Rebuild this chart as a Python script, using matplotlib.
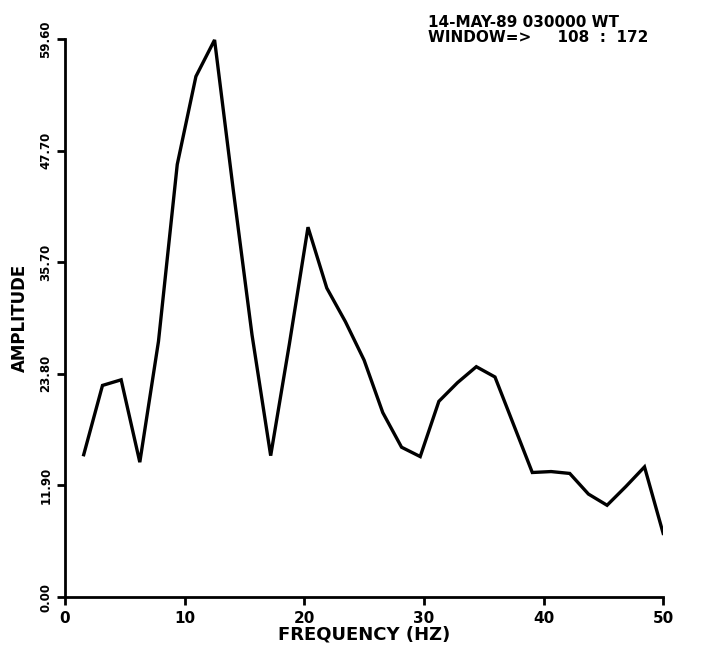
import matplotlib

matplotlib.use("Agg")
import matplotlib.pyplot as plt

# Spectrum bins (Hz) and amplitudes for the analysis window
freq_hz = [1.56, 3.13, 4.69, 6.25, 7.81, 9.38, 10.94, 12.50, 14.06, 15.63,
           17.19, 18.75, 20.31, 21.88, 23.44, 25.00, 26.56, 28.13, 29.69, 31.25,
           32.81, 34.38, 35.94, 37.50, 39.06, 40.63, 42.19, 43.75, 45.31, 46.88,
           48.44, 50.00]
amplitude = [15.2, 22.6, 23.2, 14.4, 27.3, 46.2, 55.6, 59.5, 43.5, 28.0,
             15.1, 27.0, 39.5, 33.0, 29.4, 25.3, 19.7, 16.0, 15.0, 20.9,
             22.9, 24.6, 23.5, 18.4, 13.3, 13.4, 13.2, 11.0, 9.8, 11.8,
             13.9, 6.8]

x_ticks = [0, 10, 20, 30, 40, 50]
y_ticks = [0.0, 11.92, 23.84, 35.76, 47.68, 59.6]
y_tick_labels = ["0.00", "11.90", "23.80", "35.70", "47.70", "59.60"]

header_line1 = "14-MAY-89 030000 WT"
header_line2 = "WINDOW=>     108  :  172"

fig = plt.figure(figsize=(7.07, 6.5), dpi=100)
ax = fig.add_axes([0.092, 0.0815, 0.846, 0.8585])

ax.plot(freq_hz, amplitude, color="black", linewidth=2.4, solid_joinstyle="miter")

ax.set_xlim(0, 50)
ax.set_ylim(0, 59.6)
for side in ("top", "right"):
    ax.spines[side].set_visible(False)
for side in ("left", "bottom"):
    ax.spines[side].set_linewidth(2.0)

ax.set_xticks(x_ticks)
ax.set_xticklabels([str(t) for t in x_ticks], fontsize=11, fontweight="bold",
                   family="DejaVu Sans")
ax.set_yticks(y_ticks)
ax.set_yticklabels(y_tick_labels, fontsize=8.5, fontweight="bold", rotation=90,
                   va="center", family="DejaVu Sans")
ax.tick_params(axis="x", direction="out", length=6, width=2.0, pad=4)
ax.tick_params(axis="y", direction="out", length=6, width=2.0, pad=3)

ax.set_xlabel("FREQUENCY (HZ)", fontsize=13, fontweight="bold", labelpad=0)
ax.set_ylabel("AMPLITUDE", fontsize=12, fontweight="bold", labelpad=8)

fig.text(0.605, 0.966, header_line1, fontsize=11, fontweight="bold",
         family="DejaVu Sans", ha="left", va="center")
fig.text(0.605, 0.942, header_line2, fontsize=11, fontweight="bold",
         family="DejaVu Sans", ha="left", va="center")

fig.savefig("out.png", dpi=100, facecolor="white")
